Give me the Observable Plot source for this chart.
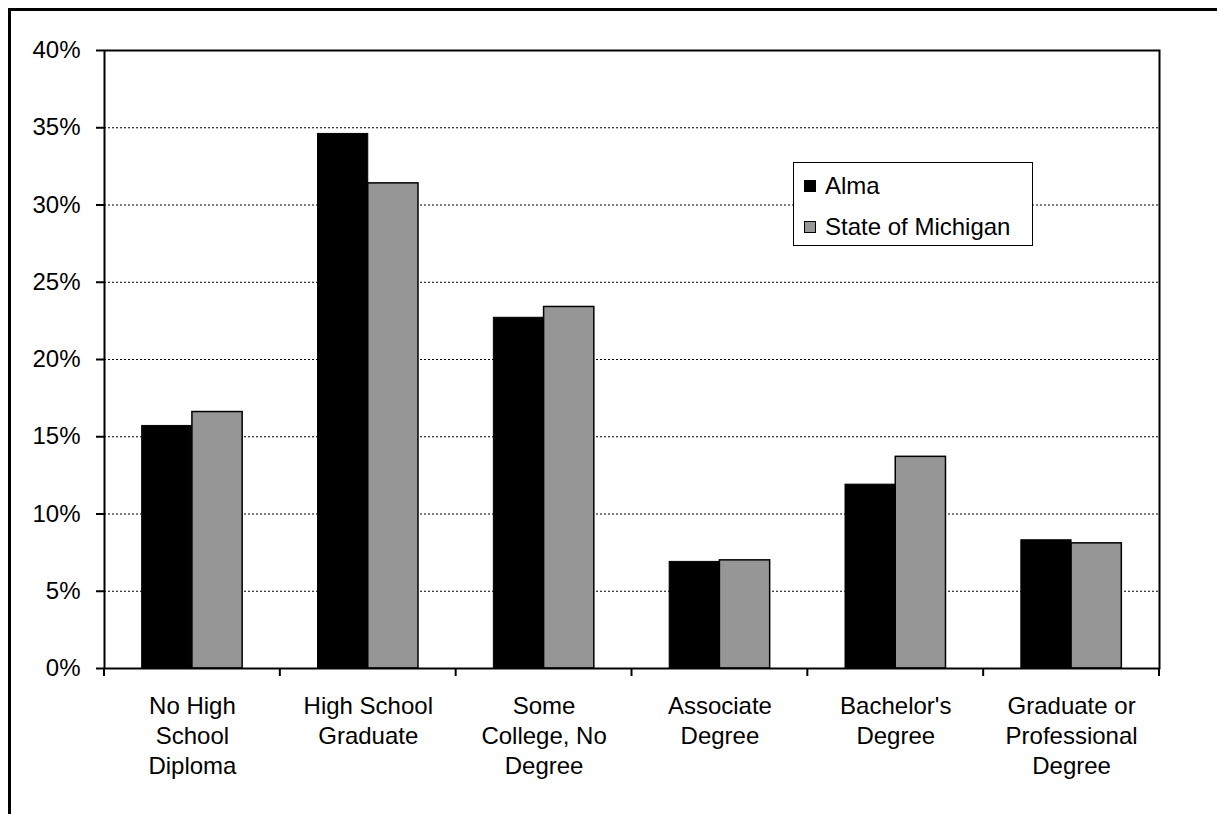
<!DOCTYPE html>
<html>
<head>
<meta charset="utf-8">
<script src="https://cdn.jsdelivr.net/npm/d3@7"></script>
<script src="https://cdn.jsdelivr.net/npm/@observablehq/plot@0.6"></script>
<style>
  body { margin: 0; background: #fff; overflow: hidden; font-family: "Liberation Sans", Arial, sans-serif; }
  #wrap { position: relative; width: 1217px; height: 814px; overflow: hidden; }
  #wrap svg { position: absolute; left: 0; top: 0; }
  #border { position: absolute; left: 8px; top: 8px; width: 1400px; height: 1000px;
            border-top: 3px solid #000; border-left: 3px solid #000; }
  #legend { position: absolute; left: 793px; top: 162px; width: 238px; height: 82px;
            border: 1.5px solid #000; background: #fff; font-size: 24px; color: #000; }
  #legend .row { position: absolute; left: 10px; height: 28px; line-height: 28px; display: flex; align-items: center; white-space: nowrap; }
  #legend .sw { width: 10px; height: 10px; border: 1.5px solid #000; margin-right: 9px; }
</style>
</head>
<body>
<div id="wrap"><div id="border"></div></div>
<script>
// Educational attainment, share of population 25+ (percent)
const categories = ["No High School Diploma", "High School Graduate", "Some College, No Degree",
                    "Associate Degree", "Bachelor's Degree", "Graduate or Professional Degree"];
const categoryLabels = ["No High\nSchool\nDiploma", "High School\nGraduate", "Some\nCollege, No\nDegree",
                        "Associate\nDegree", "Bachelor's\nDegree", "Graduate or\nProfessional\nDegree"];
const seriesNames = ["Alma", "State of Michigan"];
const almaValues = [15.7, 34.6, 22.7, 6.9, 11.9, 8.3];
const michiganValues = [16.6, 31.4, 23.4, 7.0, 13.7, 8.1];
const yTicks = [0, 5, 10, 15, 20, 25, 30, 35, 40];
const seriesColors = ["#000000", "#969696"];

const rows = categories.flatMap((c, i) => [
  {category: c, series: seriesNames[0], value: almaValues[i]},
  {category: c, series: seriesNames[1], value: michiganValues[i]}
]);

const W = 1217, H = 814;
const margin = {top: 50, right: 58, bottom: 146, left: 104};

// Clustered bars: each group spans step / (1 + gap), split evenly between the two series
const step = (W - margin.left - margin.right) / categories.length;
const gapWidth = 0.75;
const groupW = step / (1 + gapWidth);
const side = (step - groupW) / 2;
const barW = groupW / 2;

const labelOf = new Map(categories.map((c, i) => [c, categoryLabels[i]]));

const chart = Plot.plot({
  width: W,
  height: H,
  marginTop: margin.top,
  marginRight: margin.right,
  marginBottom: margin.bottom,
  marginLeft: margin.left,
  style: {fontFamily: "Liberation Sans, Arial, sans-serif", fontSize: "24px", color: "#000", background: "transparent", overflow: "visible"},
  x: {type: "band", domain: categories, padding: 0, round: false},
  y: {domain: [0, 40]},
  marks: [
    Plot.ruleY(yTicks.filter(t => t > 0 && t < 40), {stroke: "#000", strokeWidth: 1, strokeDasharray: "2,2"}),
    Plot.barY(rows.filter(d => d.series === seriesNames[0]), {
      x: "category", y: "value", fill: seriesColors[0], stroke: "#000", strokeWidth: 1,
      insetLeft: side, insetRight: side + barW
    }),
    Plot.barY(rows.filter(d => d.series === seriesNames[1]), {
      x: "category", y: "value", fill: seriesColors[1], stroke: "#000", strokeWidth: 1.5,
      insetLeft: side + barW, insetRight: side
    }),
    Plot.frame({stroke: "#000", strokeWidth: 2}),
    Plot.axisY({ticks: yTicks, tickFormat: d => d + "%", tickSize: 8, tickPadding: 16,
                strokeWidth: 2, fontSize: 24, fill: "#000", label: null}),
    Plot.axisX({tickSize: 0, tickPadding: 24, tickFormat: d => labelOf.get(d),
                lineHeight: 1.25, fontSize: 24, fill: "#000", label: null})
  ]
});

// Tick marks below the baseline at each category boundary
const xs = chart.scale("x");
const y0 = chart.scale("y").apply(0);
const bounds = categories.map(c => xs.apply(c)).concat([xs.apply(categories[categories.length - 1]) + xs.bandwidth]);
d3.select(chart).append("g")
  .attr("stroke", "#000").attr("stroke-width", 2)
  .selectAll("line").data(bounds).join("line")
  .attr("x1", d => d).attr("x2", d => d)
  .attr("y1", y0).attr("y2", y0 + 8);

document.getElementById("wrap").appendChild(chart);

// Legend box
const legend = document.createElement("div");
legend.id = "legend";
seriesNames.forEach((name, i) => {
  const row = document.createElement("div");
  row.className = "row";
  row.style.top = (i === 0 ? 9 : 50) + "px";
  const sw = document.createElement("span");
  sw.className = "sw";
  sw.style.background = seriesColors[i];
  const label = document.createElement("span");
  label.textContent = name;
  row.appendChild(sw);
  row.appendChild(label);
  legend.appendChild(row);
});
document.getElementById("wrap").appendChild(legend);
</script>
</body>
</html>
